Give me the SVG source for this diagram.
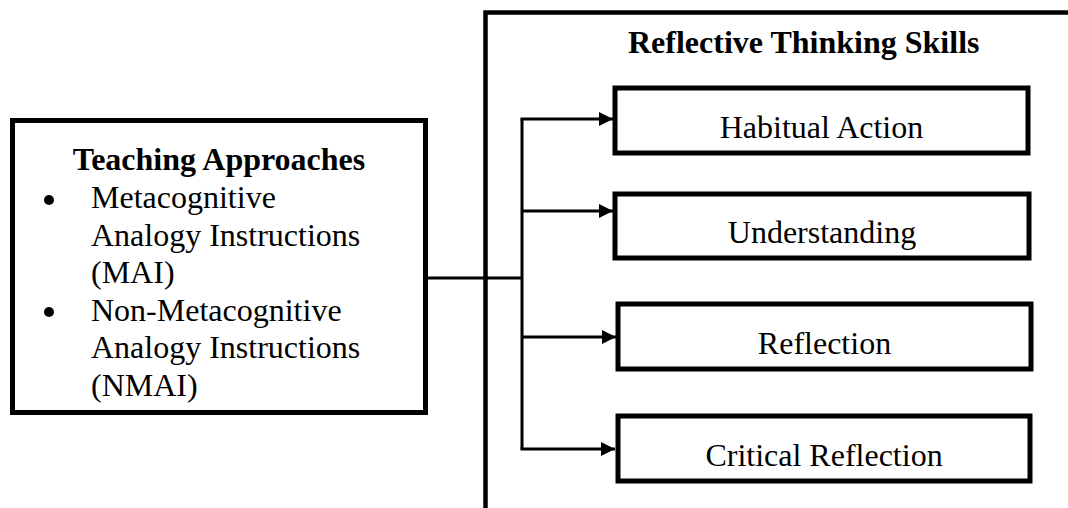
<svg xmlns="http://www.w3.org/2000/svg" width="1068" height="508" viewBox="0 0 1068 508">
<defs>
<style>
.box{fill:#fff;stroke:#000;stroke-width:5}
.frame{fill:none;stroke:#000;stroke-width:4.5}
.t{font-family:"Liberation Serif","Times New Roman",serif;font-size:32px;fill:#000}
.b{font-weight:bold}
.c{text-anchor:middle}
.con{fill:none;stroke:#000;stroke-width:3}
</style>
<marker id="ah" markerUnits="userSpaceOnUse" markerWidth="14" markerHeight="14" viewBox="0 0 13 13" refX="13" refY="6.5" orient="auto">
<path d="M0,0 L13,6.5 L0,13 z" fill="#000"/>
</marker>
</defs>
<rect width="1068" height="508" fill="#fff"/>
<g id="skills-frame">
<path class="frame" d="M485.5,508 L485.5,12.5 L1068,12.5"/>
<text class="t b" x="628" y="53">Reflective Thinking Skills</text>
</g>
<g id="teaching">
<rect class="box" x="12.5" y="120.5" width="413" height="292"/>
<text class="t b c" x="219" y="170">Teaching Approaches</text>
<circle cx="49" cy="200" r="5"/>
<text class="t" x="91" y="208">Metacognitive</text>
<text class="t" x="91" y="245.5">Analogy Instructions</text>
<text class="t" x="91" y="283">(MAI)</text>
<circle cx="49" cy="312" r="5"/>
<text class="t" x="91" y="320.5">Non-Metacognitive</text>
<text class="t" x="91" y="358">Analogy Instructions</text>
<text class="t" x="91" y="395.5">(NMAI)</text>
</g>
<g id="habitual">
<rect class="box" x="615" y="88" width="413" height="65"/>
<text class="t c" x="821.5" y="138">Habitual Action</text>
</g>
<g id="understanding">
<rect class="box" x="615" y="194" width="414" height="64"/>
<text class="t c" x="822" y="243">Understanding</text>
</g>
<g id="reflection">
<rect class="box" x="618" y="304" width="413" height="65"/>
<text class="t c" x="824.5" y="354">Reflection</text>
</g>
<g id="critical">
<rect class="box" x="618" y="416" width="412" height="65"/>
<text class="t c" x="824" y="466">Critical Reflection</text>
</g>
<g id="connectors">
<path class="con" d="M428,278 L522,278"/>
<path class="con" d="M522,119 L522,449"/>
<path class="con" d="M520.5,119 L613,119" marker-end="url(#ah)"/>
<path class="con" d="M522,211 L613,211" marker-end="url(#ah)"/>
<path class="con" d="M522,337 L616,337" marker-end="url(#ah)"/>
<path class="con" d="M520.5,449 L615,449" marker-end="url(#ah)"/>
</g>
</svg>
